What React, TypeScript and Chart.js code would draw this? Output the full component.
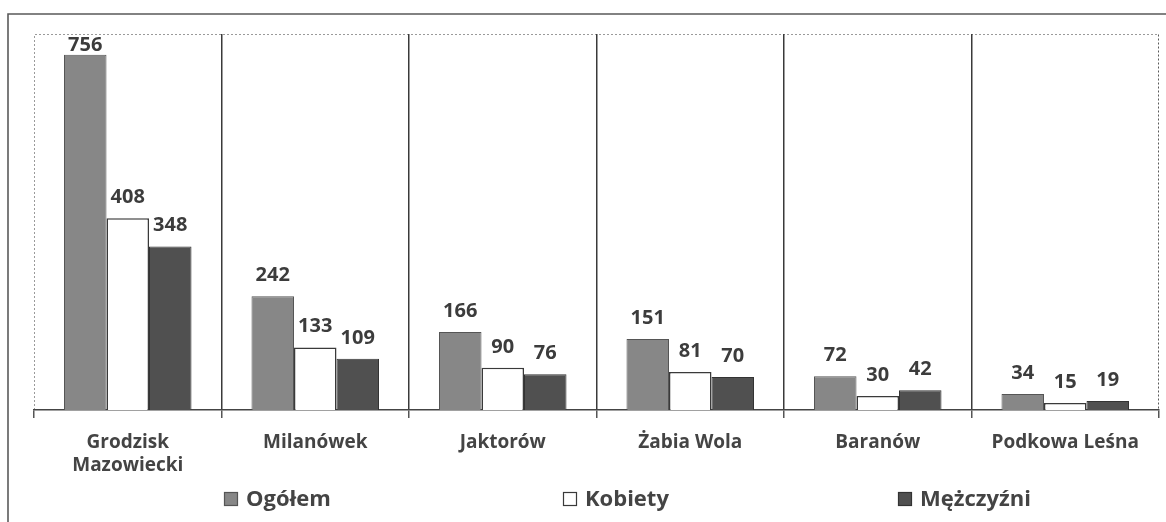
import React, { useEffect, useRef } from 'react';
import { Chart, registerables } from 'chart.js';

Chart.register(...registerables);

// ---- data ----
const categories: string[][] = [
  ['Grodzisk', 'Mazowiecki'],
  ['Milanówek'],
  ['Jaktorów'],
  ['Żabia Wola'],
  ['Baranów'],
  ['Podkowa Leśna'],
];
const seriesNames = ['Ogółem', 'Kobiety', 'Mężczyźni'];
const ogolem = [756, 242, 166, 151, 72, 34];
const kobiety = [408, 133, 90, 81, 30, 15];
const mezczyzni = [348, 109, 76, 70, 42, 19];
const yMin = 0;
const yMax = 800;

const FONT = "'Open Sans', 'DejaVu Sans', sans-serif";
const TEXT = '#444444';

const framePlugin = {
  id: 'frame',
  beforeDraw(chart: any) {
    const { ctx, width, height, chartArea } = chart;
    ctx.save();
    ctx.fillStyle = '#ffffff';
    ctx.fillRect(0, 0, width, height);
    // outer frame (cropped: top + left edge visible)
    ctx.strokeStyle = '#5a5a5a';
    ctx.lineWidth = 1.6;
    ctx.beginPath();
    ctx.moveTo(8, height);
    ctx.lineTo(8, 14);
    ctx.lineTo(width, 14);
    ctx.stroke();
    // plot area dotted border
    const { left, right, top, bottom } = chartArea;
    ctx.setLineDash([2, 2]);
    ctx.lineWidth = 1;
    ctx.strokeStyle = '#9a9a9a';
    ctx.beginPath();
    ctx.moveTo(left + 0.5, bottom);
    ctx.lineTo(left + 0.5, top + 0.5);
    ctx.lineTo(right - 0.5, top + 0.5);
    ctx.stroke();
    ctx.strokeStyle = '#5a5a5a';
    ctx.beginPath();
    ctx.moveTo(right - 0.5, top + 0.5);
    ctx.lineTo(right - 0.5, bottom);
    ctx.stroke();
    ctx.restore();
  },
};

const valueLabelPlugin = {
  id: 'valueLabels',
  afterDatasetsDraw(chart: any) {
    const { ctx, chartArea } = chart;
    ctx.save();
    ctx.font = `bold 20px ${FONT}`;
    ctx.fillStyle = '#3c3c3c';
    ctx.textAlign = 'center';
    ctx.textBaseline = 'alphabetic';
    chart.data.datasets.forEach((ds: any, di: number) => {
      const meta = chart.getDatasetMeta(di);
      meta.data.forEach((el: any, i: number) => {
        const v = ds.data[i];
        let y = el.y - 15;
        y = Math.max(y, chartArea.top + 17);
        ctx.fillText(String(v), el.x, y);
      });
    });
    ctx.restore();
  },
};

const legendPlugin = {
  id: 'spreadLegend',
  afterDraw(chart: any) {
    const { ctx } = chart;
    const starts = [224, 563, 898];
    const baseline = 506;
    const box = 14;
    ctx.save();
    ctx.font = `bold 22px ${FONT}`;
    ctx.textAlign = 'left';
    ctx.textBaseline = 'alphabetic';
    chart.data.datasets.forEach((ds: any, i: number) => {
      const x = starts[i];
      ctx.fillStyle = ds.backgroundColor;
      ctx.fillRect(x, baseline - box, box, box);
      ctx.strokeStyle = ds.borderColor;
      ctx.lineWidth = 1.2;
      ctx.strokeRect(x + 0.5, baseline - box + 0.5, box - 1, box - 1);
      ctx.fillStyle = TEXT;
      ctx.fillText(ds.label, x + box + 8, baseline);
    });
    ctx.restore();
  },
};

export default function App() {
  const ref = useRef<HTMLCanvasElement | null>(null);

  useEffect(() => {
    document.body.style.margin = '0';
    document.body.style.overflow = 'hidden';
    const canvas = ref.current;
    if (!canvas) return;
    const chart = new Chart(canvas, {
      type: 'bar',
      data: {
        labels: categories,
        datasets: [
          {
            label: seriesNames[0],
            data: ogolem,
            backgroundColor: '#878787',
            borderColor: '#555555',
            borderWidth: 1,
          },
          {
            label: seriesNames[1],
            data: kobiety,
            backgroundColor: '#ffffff',
            borderColor: '#3a3a3a',
            borderWidth: 1.5,
          },
          {
            label: seriesNames[2],
            data: mezczyzni,
            backgroundColor: '#505050',
            borderColor: '#333333',
            borderWidth: 1,
          },
        ],
      },
      options: {
        responsive: false,
        animation: false,
        devicePixelRatio: 1,
        layout: { padding: { left: 34, right: 7, top: 34, bottom: 0 } },
        datasets: { bar: { categoryPercentage: 0.68, barPercentage: 1 } },
        plugins: {
          legend: { display: false },
          tooltip: { enabled: false },
          title: { display: false },
        },
        scales: {
          x: {
            type: 'category',
            offset: true,
            grid: {
              offset: true,
              drawOnChartArea: true,
              drawTicks: true,
              tickLength: 8,
              lineWidth: 1.5,
              color: (c: any) => (c.type === 'tick' && c.index > 0 ? '#3a3a3a' : 'rgba(0,0,0,0)'),
              tickColor: '#555555',
            },
            border: { display: true, color: '#444444', width: 1.5 },
            ticks: {
              color: TEXT,
              padding: 13,
              maxRotation: 0,
              autoSkip: false,
              font: { family: FONT, size: 19, weight: 'bold', lineHeight: '23px' },
            },
            afterFit(scale: any) {
              scale.height = 112;
            },
          },
          y: {
            display: false,
            min: yMin,
            max: yMax,
            grid: { display: false },
          },
        },
      },
      plugins: [framePlugin, valueLabelPlugin, legendPlugin],
    } as any);
    return () => chart.destroy();
  }, []);

  return (
    <div style={{ width: 1166, height: 522 }}>
      <canvas ref={ref} width={1166} height={522} style={{ display: 'block' }} />
    </div>
  );
}
